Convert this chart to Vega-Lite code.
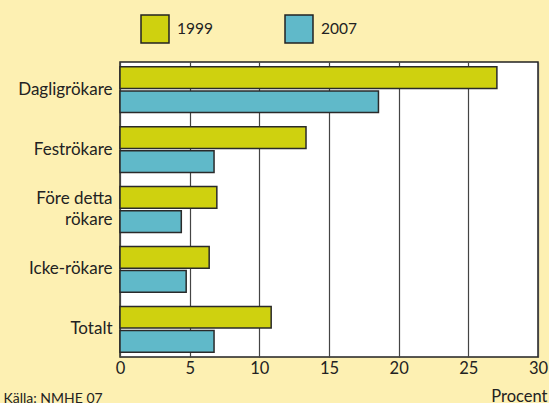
{
  "$schema": "https://vega.github.io/schema/vega-lite/v6.json",
  "width": 418,
  "height": 295,
  "autosize": {"type": "none"},
  "padding": {"left": 120, "top": 62, "right": 11, "bottom": 46},
  "background": "#fdf0b2",
  "config": {
    "font": "Lato",
    "view": {"fill": "#ffffff", "stroke": "#222222", "strokeWidth": 1.5},
    "axis": {"labelFont": "Lato", "titleFont": "Lato", "labelColor": "#222222", "titleColor": "#222222"}
  },
  "data": {
    "values": [
      {"kategori": "Dagligrökare", "år": "1999", "procent": 27.05},
      {"kategori": "Dagligrökare", "år": "2007", "procent": 18.55},
      {"kategori": "Feströkare", "år": "1999", "procent": 13.35},
      {"kategori": "Feströkare", "år": "2007", "procent": 6.75},
      {"kategori": "Före detta rökare", "år": "1999", "procent": 6.95},
      {"kategori": "Före detta rökare", "år": "2007", "procent": 4.4},
      {"kategori": "Icke-rökare", "år": "1999", "procent": 6.4},
      {"kategori": "Icke-rökare", "år": "2007", "procent": 4.75},
      {"kategori": "Totalt", "år": "1999", "procent": 10.85},
      {"kategori": "Totalt", "år": "2007", "procent": 6.75}
    ]
  },
  "mark": {"type": "bar", "stroke": "#2a2a2a", "strokeWidth": 1.5},
  "encoding": {
    "y": {
      "field": "kategori",
      "type": "nominal",
      "sort": ["Dagligrökare", "Feströkare", "Före detta rökare", "Icke-rökare", "Totalt"],
      "scale": {"paddingInner": 0.235, "paddingOuter": 0.08},
      "axis": {
        "title": "Källa: NMHE 07",
        "titleAngle": 0,
        "titleX": -117,
        "titleY": 340,
        "titleAlign": "left",
        "titleBaseline": "alphabetic",
        "titleFontSize": 14,
        "titleFontWeight": "normal",
        "labelFontSize": 17,
        "labelPadding": 8,
        "ticks": false,
        "domain": false,
        "labelExpr": "datum.label == 'Före detta rökare' ? ['Före detta ', 'rökare'] : datum.label",
        "labelLineHeight": 21,
        "labelOffset": {"condition": {"test": "datum.value == 'Före detta rökare'", "value": -10.5}, "value": 0}
      }
    },
    "yOffset": {
      "field": "år",
      "type": "nominal",
      "scale": {"paddingInner": 0.1, "paddingOuter": 0}
    },
    "x": {
      "field": "procent",
      "type": "quantitative",
      "scale": {"domain": [0, 30], "nice": false},
      "axis": {
        "values": [0, 5, 10, 15, 20, 25, 30],
        "title": "Procent",
        "titleAnchor": "end",
        "titleAlign": "right",
        "titleBaseline": "alphabetic",
        "titleX": 427,
        "titleY": 44,
        "titleFontSize": 16.5,
        "titleFontWeight": "normal",
        "labelFontSize": 16.5,
        "labelPadding": 3,
        "labelFlush": false,
        "ticks": false,
        "domain": false,
        "grid": true,
        "gridColor": "#444444",
        "gridWidth": 1.2,
        "gridOpacity": 1
      }
    },
    "color": {
      "field": "år",
      "type": "nominal",
      "scale": {"domain": ["1999", "2007"], "range": ["#cfd10f", "#60b9c9"]},
      "legend": {
        "title": null,
        "orient": "none",
        "legendX": 20,
        "legendY": -48,
        "direction": "horizontal",
        "symbolType": "square",
        "symbolSize": 784,
        "symbolStrokeColor": "#222222",
        "symbolStrokeWidth": 1.5,
        "symbolOpacity": 1,
        "labelFontSize": 15.5,
        "labelColor": "#222222",
        "labelOffset": 7,
        "columnPadding": 69
      }
    }
  }
}
